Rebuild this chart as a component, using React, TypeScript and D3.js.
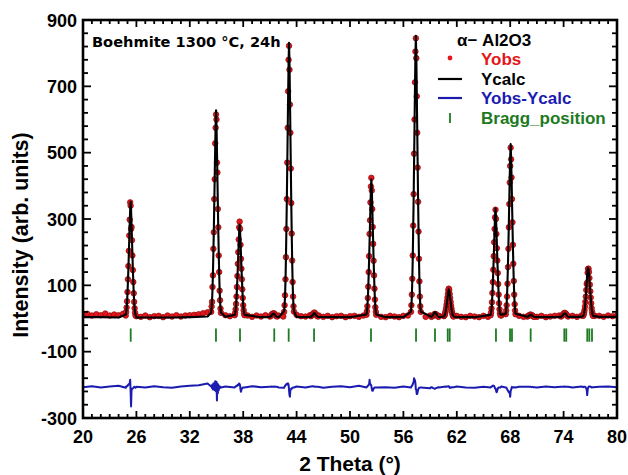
import React from "react";
import * as d3 from "d3";

// axes
const X_DOMAIN = [20, 80];
const Y_DOMAIN = [-300, 900];
const X_TICKS = [20, 26, 32, 38, 44, 50, 56, 62, 68, 74, 80];
const Y_TICKS = [900, 700, 500, 300, 100, -100, -300];

// observed background, 20..80 every 0.5 deg
const BG_OBS_START = 20;
const BG_OBS_STEP = 0.5;
const BG_OBS = [
  11, 14, 9, 13, 10, 15, 9, 12, 10, 14, 9, 8, 7, 5, 9, 4, 7, 8, 4, 9,
  6, 10, 6, 9, 10, 11, 13, 16, 19, 14, 10, 9, 10, 7, 10, 8, 8, 9, 5, 9,
  6, 10, 8, 10, 9, 6, 8, 8, 11, 7, 6, 10, 10, 9, 5, 8, 4, 7, 8, 4,
  7, 8, 5, 9, 7, 7, 8, 5, 4, 8, 6, 4, 8, 9, 7, 7, 8, 5, 9, 8,
  8, 10, 8, 8, 8, 5, 4, 8, 6, 4, 8, 5, 6, 6, 9, 7, 7, 7, 8, 5,
  7, 7, 5, 8, 4, 6, 8, 9, 8, 8, 8, 5, 9, 8, 8, 8, 8, 5, 9, 7, 9,
];

// calculated background, 20..80 every 2 deg
const BG_CALC_STEP = 2;
const BG_CALC = [
  4, 4, 3, 3, 3, 3, 4, 6, 5, 4, 4, 4, 4, 4, 4, 4, 4, 4, 4, 4, 4, 4, 4, 4, 4, 4, 4, 4, 5, 5, 5,
];

// difference curve away from the peaks, 20..80 every 1 deg
const DIFF_ZERO = -207;
const DIFF_BG = [
  -207, -204, -208, -205, -203, -209, -206, -208, -204, -207,
  -209, -205, -203, -201, -196, -206, -205, -208, -206, -204,
  -207, -205, -208, -206, -205, -208, -206, -209, -206, -204,
  -207, -203, -206, -204, -207, -209, -205, -206, -204, -210,
  -208, -206, -205, -208, -209, -206, -207, -205, -207, -206,
  -207, -208, -205, -207, -206, -208, -205, -207, -206, -205, -207,
];

// reflections: start angle, step, Yobs and Ycalc
const PEAKS = [
  { start: 24.8, step: 0.05,
    calc: [11, 18, 30, 49, 77, 112, 150, 195, 241, 286, 328, 352, 328, 286, 241, 195, 150, 112, 77, 49, 30, 18, 11],
    obs: [9, 20, 33, 52, 80, 118, 158, 204, 250, 298, 350, 340, 270, 276, 236, 190, 146, 110, 76, 50, 31, 17, 9] },
  { start: 34.4, step: 0.05,
    calc: [18, 31, 53, 87, 137, 199, 267, 348, 429, 510, 584, 628, 584, 510, 429, 348, 267, 199, 137, 87, 53, 31, 18],
    obs: [20, 36, 50, 95, 130, 210, 260, 360, 420, 528, 575, 615, 600, 470, 440, 330, 275, 190, 140, 84, 55, 30, 17] },
  { start: 37.05, step: 0.05,
    calc: [11, 16, 26, 41, 63, 91, 122, 158, 194, 230, 264, 283, 264, 230, 194, 158, 122, 91, 63, 41, 26, 16, 11],
    obs: [10, 17, 28, 44, 66, 95, 128, 165, 200, 238, 275, 292, 270, 222, 180, 150, 118, 88, 62, 40, 25, 15, 10] },
  { start: 41.0, step: 0.1,
    calc: [5, 7, 10, 13, 15, 13, 10, 7, 5],
    obs: [6, 8, 12, 14, 16, 15, 11, 8, 6] },
  { start: 42.6, step: 0.05,
    calc: [22, 38, 67, 112, 178, 261, 352, 459, 567, 674, 773, 831, 773, 674, 567, 459, 352, 261, 178, 112, 67, 38, 22],
    obs: [20, 40, 70, 118, 185, 270, 360, 470, 575, 685, 780, 822, 750, 645, 560, 452, 348, 256, 175, 110, 66, 37, 21] },
  { start: 45.6, step: 0.1,
    calc: [5, 7, 10, 14, 16, 14, 10, 7, 5],
    obs: [7, 9, 13, 16, 18, 15, 11, 8, 6] },
  { start: 51.85, step: 0.05,
    calc: [12, 21, 35, 58, 91, 133, 179, 233, 287, 341, 391, 420, 391, 341, 287, 233, 179, 133, 91, 58, 35, 21, 12],
    obs: [11, 22, 37, 62, 96, 140, 188, 255, 296, 350, 398, 424, 386, 330, 276, 225, 174, 130, 90, 57, 34, 20, 11] },
  { start: 56.85, step: 0.05,
    calc: [21, 38, 68, 114, 182, 267, 360, 470, 581, 691, 793, 852, 793, 691, 581, 470, 360, 267, 182, 114, 68, 38, 21],
    obs: [20, 40, 72, 120, 190, 280, 375, 497, 600, 712, 805, 845, 785, 670, 560, 455, 352, 262, 180, 112, 66, 37, 20] },
  { start: 59.15, step: 0.1,
    calc: [5, 8, 12, 16, 19, 16, 12, 8, 5],
    obs: [5, 7, 9, 12, 14, 13, 10, 7, 5] },
  { start: 60.55, step: 0.05,
    calc: [6, 7, 10, 15, 22, 30, 39, 50, 61, 72, 82, 88, 84, 76, 64, 52, 40, 30, 22, 15, 10, 7, 6],
    obs: [7, 9, 11, 17, 23, 31, 41, 52, 63, 74, 85, 90, 86, 74, 62, 50, 39, 30, 21, 15, 10, 7, 6] },
  { start: 65.8, step: 0.05,
    calc: [11, 17, 29, 47, 73, 106, 142, 184, 227, 270, 309, 332, 309, 270, 227, 184, 142, 106, 73, 47, 29, 17, 11],
    obs: [10, 18, 30, 49, 77, 110, 147, 188, 230, 270, 305, 328, 300, 255, 212, 175, 137, 104, 72, 46, 28, 16, 10] },
  { start: 67.5, step: 0.05,
    calc: [14, 25, 43, 72, 114, 166, 223, 291, 359, 427, 489, 526, 489, 427, 359, 291, 223, 166, 114, 72, 43, 25, 14],
    obs: [13, 24, 40, 66, 105, 155, 210, 275, 345, 410, 460, 515, 480, 425, 360, 290, 222, 165, 113, 72, 43, 24, 13] },
  { start: 69.9, step: 0.1,
    calc: [5, 6, 8, 10, 11, 10, 8, 6, 5],
    obs: [6, 7, 9, 11, 12, 10, 9, 6, 5] },
  { start: 73.7, step: 0.1,
    calc: [5, 7, 10, 13, 15, 15, 12, 8, 5],
    obs: [6, 8, 11, 14, 17, 16, 13, 9, 6] },
  { start: 76.2, step: 0.05,
    calc: [8, 11, 16, 24, 35, 50, 68, 90, 112, 132, 147, 153, 149, 138, 120, 100, 80, 62, 46, 32, 21, 13, 8],
    obs: [8, 12, 17, 25, 36, 50, 66, 86, 104, 108, 138, 150, 150, 140, 122, 102, 82, 63, 46, 31, 20, 13, 8] },
];

const BRAGG = [
  25.36, 34.94, 37.64, 41.49, 43.11, 45.96, 52.36, 57.42, 59.55, 60.98,
  61.2, 66.4, 67.98, 68.2, 70.3, 74.08, 74.3, 76.66, 76.89, 77.19,
];

const FONT = "'Liberation Sans', Arial, sans-serif";
const RED = "#e3161b";
const BLUE = "#1b1bb0";
const GREEN = "#1d7a22";

export default function App() {
  const W = 628;
  const H = 475;
  const L = 83, R = 617, T = 20, B = 418;

  const x = d3.scaleLinear().domain(X_DOMAIN).range([L, R]);
  const y = d3.scaleLinear().domain(Y_DOMAIN).range([B, T]);

  const segs = PEAKS.map((p) => ({ ...p, end: p.start + (p.obs.length - 1) * p.step }));
  const inPeak = (t: number) => segs.some((s) => t >= s.start - 0.05 && t <= s.end + 0.05);

  // Yobs
  const obsPts: [number, number][] = [];
  BG_OBS.forEach((v, i) => {
    const t = BG_OBS_START + i * BG_OBS_STEP;
    if (!inPeak(t)) obsPts.push([t, v]);
  });
  segs.forEach((s) => s.obs.forEach((v, i) => obsPts.push([s.start + i * s.step, v])));

  // Ycalc
  const calcPts: [number, number][] = [];
  BG_CALC.forEach((v, i) => {
    const t = X_DOMAIN[0] + i * BG_CALC_STEP;
    if (!inPeak(t)) calcPts.push([t, v]);
  });
  segs.forEach((s) => s.calc.forEach((v, i) => calcPts.push([s.start + i * s.step, v])));
  calcPts.sort((a, b) => a[0] - b[0]);

  // Yobs - Ycalc
  const diffPts: [number, number][] = [];
  DIFF_BG.forEach((v, i) => {
    const t = X_DOMAIN[0] + i;
    if (!inPeak(t)) diffPts.push([t, v]);
  });
  segs.forEach((s) =>
    s.obs.forEach((v, i) => diffPts.push([s.start + i * s.step, v - s.calc[i] + DIFF_ZERO]))
  );
  diffPts.sort((a, b) => a[0] - b[0]);

  const line = d3
    .line<[number, number]>()
    .x((d) => x(d[0]))
    .y((d) => y(d[1]));

  const xMinor = d3.range(20, 81, 1);
  const yMinor = d3.range(-300, 901, 40);

  return (
    <svg
      width={W}
      height={H}
      style={{ position: "fixed", left: 0, top: 0, background: "#fff" }}
      fontFamily={FONT}
    >
      <defs>
        <clipPath id="plot">
          <rect x={L} y={T} width={R - L} height={B - T} />
        </clipPath>
      </defs>

      <g clipPath="url(#plot)">
        {/* Bragg positions */}
        {BRAGG.map((b, i) => (
          <line key={i} x1={x(b)} x2={x(b)} y1={y(-30)} y2={y(-70)} stroke={GREEN} strokeWidth={1.8} />
        ))}
        {/* difference */}
        <path d={line(diffPts) ?? ""} fill="none" stroke={BLUE} strokeWidth={2} strokeLinejoin="round" />
        {/* observed */}
        {obsPts.map((d, i) => (
          <circle key={i} cx={x(d[0])} cy={y(d[1])} r={2.8} fill={RED} stroke="#8e0d10" strokeWidth={0.7} />
        ))}
        {/* calculated */}
        <path d={line(calcPts) ?? ""} fill="none" stroke="#000" strokeWidth={2.1} strokeLinejoin="round" />
      </g>

      {/* ticks */}
      {xMinor.map((t) => {
        const major = (t - 20) % 6 === 0;
        const len = major ? 7 : 4;
        return (
          <g key={t} stroke="#000" strokeWidth={1.8}>
            <line x1={x(t)} x2={x(t)} y1={B} y2={B - len} />
            <line x1={x(t)} x2={x(t)} y1={T} y2={T + len} />
          </g>
        );
      })}
      {yMinor.map((t) => {
        const major = (t + 300) % 200 === 0;
        const len = major ? 8 : 5;
        return (
          <g key={t} stroke="#000" strokeWidth={1.8}>
            <line x1={L} x2={L + len} y1={y(t)} y2={y(t)} />
            <line x1={R} x2={R - len} y1={y(t)} y2={y(t)} />
          </g>
        );
      })}
      <rect x={L} y={T} width={R - L} height={B - T} fill="none" stroke="#000" strokeWidth={2.6} />

      {/* tick labels */}
      {X_TICKS.map((t) => (
        <text key={t} x={x(t)} y={443} textAnchor="middle" fontSize={18} fontWeight="bold">
          {t}
        </text>
      ))}
      {Y_TICKS.map((t) => (
        <text key={t} x={77} y={y(t) + 6.5} textAnchor="end" fontSize={18} fontWeight="bold">
          {t}
        </text>
      ))}

      {/* axis titles */}
      <text x={350} y={471} textAnchor="middle" fontSize={21} fontWeight="bold">
        2 Theta (°)
      </text>
      <text
        transform="translate(28,235) rotate(-90)"
        textAnchor="middle"
        fontSize={21.5}
        fontWeight="bold"
      >
        Intensity (arb. units)
      </text>

      {/* sample label */}
      <text x={92} y={47} fontSize={14.6} fontWeight="bold" fontFamily="'DejaVu Sans', Verdana, sans-serif">
        Boehmite 1300 °C, 24h
      </text>

      {/* legend */}
      <g fontSize={17} fontWeight="bold">
        <text x={457} y={46} fill="#000">α− Al2O3</text>
        <circle cx={450} cy={58} r={2.4} fill={RED} />
        <text x={481} y={65} fill={RED}>Yobs</text>
        <line x1={438} x2={462} y1={79} y2={79} stroke="#000" strokeWidth={2.2} />
        <text x={481} y={85} fill="#000">Ycalc</text>
        <line x1={438} x2={462} y1={98} y2={98} stroke={BLUE} strokeWidth={2.2} />
        <text x={481} y={104} fill={BLUE}>Yobs-Ycalc</text>
        <line x1={450} x2={450} y1={113} y2={123} stroke={GREEN} strokeWidth={1.8} />
        <text x={481} y={124} fill={GREEN}>Bragg_position</text>
      </g>
    </svg>
  );
}
